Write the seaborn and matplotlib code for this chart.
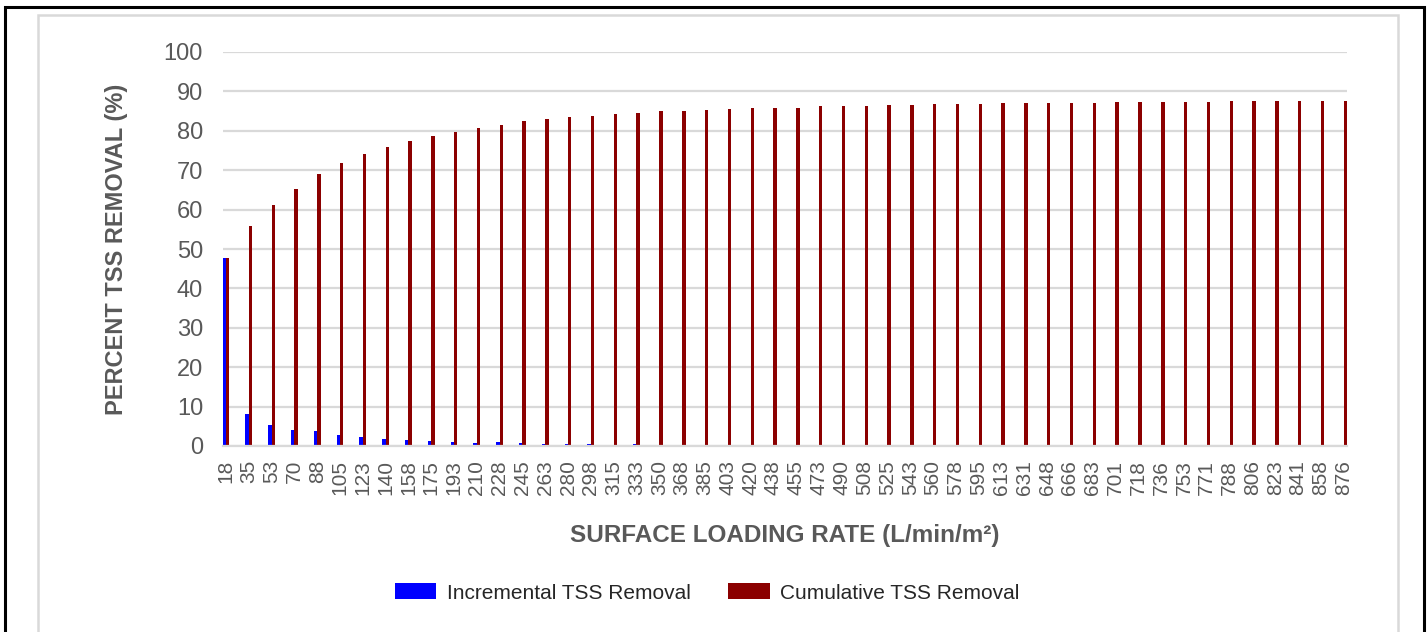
import numpy as np
import pandas as pd
import seaborn as sns
import matplotlib.pyplot as plt
from matplotlib.patches import Rectangle, Patch

# surface loading rate categories (L/min/m2)
rates = [18, 35, 53, 70, 88, 105, 123, 140, 158, 175, 193, 210, 228, 245, 263, 280, 298,
         315, 333, 350, 368, 385, 403, 420, 438, 455, 473, 490, 508, 525, 543, 560, 578,
         595, 613, 631, 648, 666, 683, 701, 718, 736, 753, 771, 788, 806, 823, 841, 858, 876]

incremental = [47.6, 8.1, 5.3, 4.1, 3.7, 2.7, 2.2, 1.9, 1.5, 1.2, 0.9, 0.8, 0.9, 0.8, 0.4,
               0.6, 0.4, 0.3, 0.4, 0.25, 0.1, 0.3, 0.2, 0.3, 0.1, 0.2, 0.3, 0.1, 0.1, 0.2,
               0.1, 0.1, 0.1, 0.1, 0.2, 0.1, 0.1, 0.1, 0.1, 0.1, 0.1, 0.1, 0.1, 0.1, 0.1,
               0.1, 0.1, 0.1, 0.1, 0.1]

cumulative = [47.6, 55.8, 61.2, 65.3, 69.1, 71.8, 74.1, 76.0, 77.5, 78.8, 79.7, 80.6, 81.5,
              82.5, 82.9, 83.6, 83.8, 84.2, 84.5, 85.0, 85.0, 85.3, 85.5, 85.8, 85.8, 85.9,
              86.3, 86.3, 86.4, 86.6, 86.6, 86.8, 86.8, 86.8, 87.0, 87.1, 87.1, 87.1, 87.1,
              87.3, 87.3, 87.3, 87.4, 87.4, 87.5, 87.5, 87.5, 87.5, 87.5, 87.5]

series_names = ["Incremental TSS Removal", "Cumulative TSS Removal"]
colors = ["#0000FF", "#8B0000"]
yticks = list(range(0, 101, 10))

labels = [str(r) for r in rates]
df = pd.DataFrame({
    "rate": labels * 2,
    "value": incremental + cumulative,
    "series": [series_names[0]] * len(rates) + [series_names[1]] * len(rates),
})

sns.set_theme(style="white")
plt.rcParams['font.family'] = ['Liberation Sans', 'DejaVu Sans']
gray = "#595959"

fig = plt.figure(figsize=(14.28, 6.32), dpi=100)
ax = fig.add_axes([222.5 / 1428, 1 - 446 / 632, (1347 - 222.5) / 1428, (446 - 52) / 632])

w = 0.3
sns.barplot(data=df, x="rate", y="value", hue="series", order=labels,
            hue_order=series_names, palette=colors, width=w, saturation=1,
            linewidth=0, ax=ax)
ax.get_legend().remove()

ax.set_xlim(-w / 2, len(rates) - 1 + w / 2)
ax.set_ylim(0, 100)
ax.set_yticks(yticks)
ax.yaxis.grid(True, color="#D9D9D9", linewidth=1.6)
ax.set_axisbelow(True)
for s in ["top", "right", "left"]:
    ax.spines[s].set_visible(False)
ax.spines["bottom"].set_color("#D9D9D9")
ax.spines["bottom"].set_linewidth(1.6)

ax.tick_params(axis="y", length=0, pad=14, labelsize=17, labelcolor=gray)
ax.tick_params(axis="x", length=0, pad=10, labelsize=15, labelcolor=gray, rotation=90)

ax.set_xlabel("SURFACE LOADING RATE (L/min/m²)", fontsize=17.5, fontweight="bold", color=gray)
ax.set_ylabel("PERCENT TSS REMOVAL (%)", fontsize=17, fontweight="bold", color=gray)
ax.xaxis.set_label_coords(0.5, (446 - 524) / 394)
ax.yaxis.set_label_coords((128 - 222.5) / 1125, 0.5)

handles = [Patch(facecolor=c, edgecolor="none") for c in colors]
fig.legend(handles, series_names, loc="center", bbox_to_anchor=(707 / 1428, 1 - 593 / 632),
           ncol=2, frameon=False, fontsize=15, handlelength=2.0, handleheight=0.8,
           columnspacing=1.8, handletextpad=0.5)

# chart frame borders
fig.add_artist(Rectangle((5 / 1428, -0.1), (1424 - 5) / 1428, 1.1 - 7 / 632,
                         transform=fig.transFigure, fill=False, edgecolor="black",
                         linewidth=2.2, clip_on=False))
fig.add_artist(Rectangle((38 / 1428, -0.1), (1398 - 38) / 1428, 1.1 - 15 / 632,
                         transform=fig.transFigure, fill=False, edgecolor="#D9D9D9",
                         linewidth=1.8, clip_on=False))

fig.savefig("out.png", dpi=100)
